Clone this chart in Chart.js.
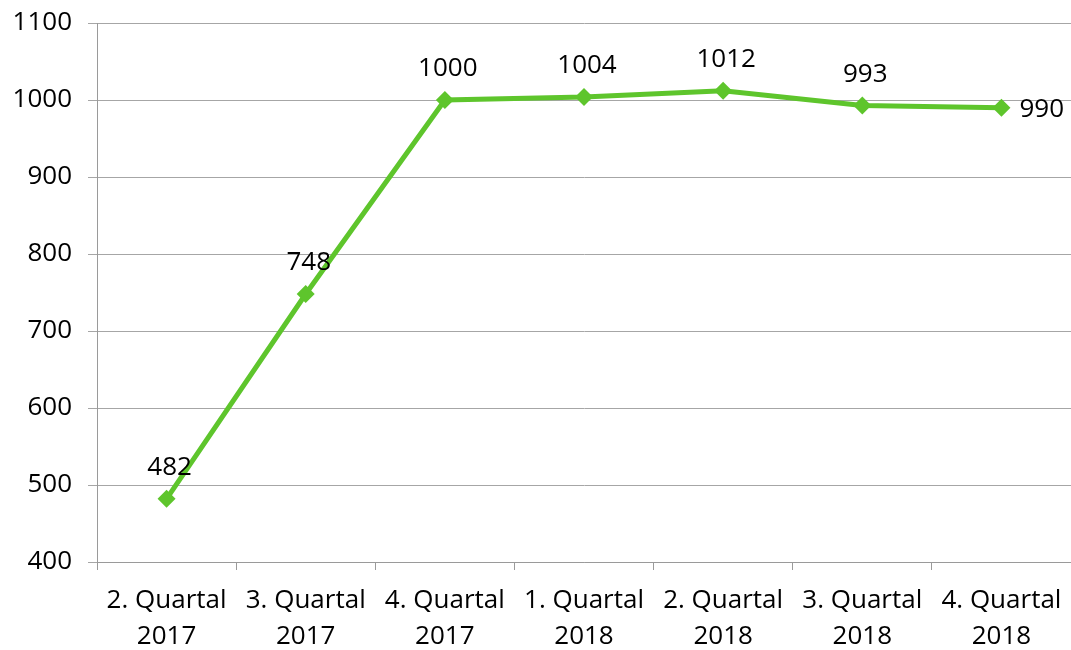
<!DOCTYPE html>
<html>
<head>
<meta charset="utf-8">
<script src="https://cdn.jsdelivr.net/npm/chart.js@4/dist/chart.umd.min.js"></script>
<style>
  html, body { margin: 0; padding: 0; background: #fff; }
  #wrap { width: 1071px; height: 650px; }
</style>
</head>
<body>
<div id="wrap"><canvas id="vis"></canvas></div>
<script>
const categories = [
  ['2. Quartal', '2017'], ['3. Quartal', '2017'], ['4. Quartal', '2017'],
  ['1. Quartal', '2018'], ['2. Quartal', '2018'], ['3. Quartal', '2018'], ['4. Quartal', '2018']
];
const values = [482, 748, 1000, 1004, 1012, 993, 990];
const yTicks = [400, 500, 600, 700, 800, 900, 1000, 1100];

const green = 'rgb(94, 197, 44)';
const font = { family: 'Open Sans', size: 26 };

// data labels above each point, last one to the right
const valueLabels = {
  id: 'valueLabels',
  afterDatasetsDraw(chart) {
    const ctx = chart.ctx;
    const pts = chart.getDatasetMeta(0).data;
    ctx.save();
    ctx.font = '26px "Open Sans"';
    ctx.fillStyle = '#000';
    ctx.textBaseline = 'middle';
    pts.forEach((p, i) => {
      if (i === pts.length - 1) {
        ctx.textAlign = 'left';
        ctx.fillText(values[i], p.x + 18, p.y + 2);
      } else {
        ctx.textAlign = 'center';
        ctx.fillText(values[i], p.x + 3, p.y - 31);
      }
    });
    ctx.restore();
  }
};

const ctx = document.getElementById('vis').getContext('2d');
const myChart = new Chart(ctx, {
  type: 'line',
  data: {
    labels: categories,
    datasets: [{
      data: values,
      borderColor: green,
      backgroundColor: green,
      borderWidth: 5,
      pointStyle: 'rectRot',
      pointRadius: 9,
      pointBorderWidth: 0,
      tension: 0,
      clip: false
    }]
  },
  options: {
    responsive: true,
    maintainAspectRatio: false,
    animation: false,
    layout: { autoPadding: false, padding: { top: 23, right: 0, left: 0, bottom: 0 } },
    plugins: {
      legend: { display: false },
      tooltip: { enabled: false }
    },
    scales: {
      x: {
        offset: true,
        grid: {
          offset: true,
          drawOnChartArea: false,
          drawTicks: true,
          tickLength: 8,
          color: '#9a9a9a'
        },
        border: { color: '#9a9a9a', width: 1 },
        ticks: {
          color: '#000',
          font: { family: 'Open Sans', size: 26, lineHeight: 1.38 },
          padding: 13,
          maxRotation: 0,
          autoSkip: false
        },
        afterFit(scale) {
          scale.height = 88;
          scale.paddingLeft = 0;
          scale.paddingRight = 0;
        }
      },
      y: {
        min: 400,
        max: 1100,
        afterBuildTicks(scale) { scale.ticks = yTicks.map(v => ({ value: v })); },
        grid: { color: '#a6a6a6', tickLength: 9 },
        border: { color: '#9a9a9a', width: 1 },
        ticks: { color: '#000', font: font, padding: 16, callback: v => String(v) },
        afterFit(scale) {
          scale.width = 97;
          scale.paddingTop = 0;
          scale.paddingBottom = 0;
        }
      }
    }
  },
  plugins: [valueLabels]
});
</script>
</body>
</html>
